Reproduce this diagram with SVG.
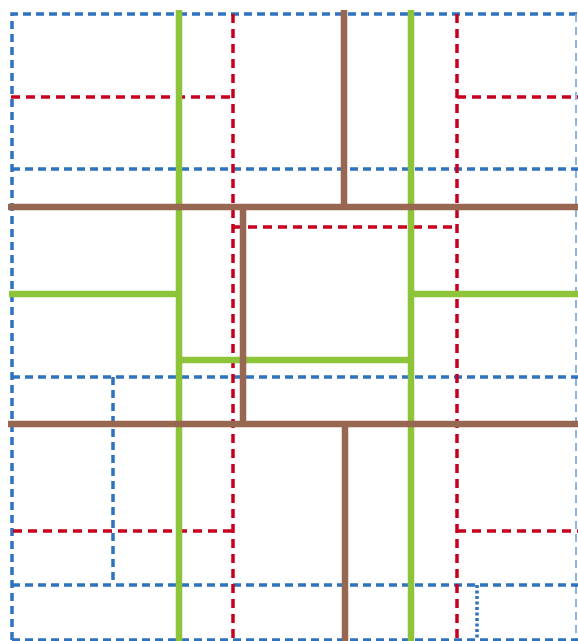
<svg xmlns="http://www.w3.org/2000/svg" width="578" height="641" viewBox="0 0 578 641">
<style>
.blue{fill:none;stroke:#2f72bd;stroke-width:3.5;stroke-dasharray:8 5}
.bluef{fill:none;stroke:#2f72bd;stroke-width:3.5;stroke-dasharray:3 2.5}
.red{fill:none;stroke:#c8001f;stroke-width:3.5;stroke-dasharray:9 6}
.green{fill:none;stroke:#8dc43a;stroke-width:6.5;stroke-linecap:butt}
.brown{fill:none;stroke:#976751;stroke-width:6.5;stroke-linecap:butt}
</style>
<rect width="578" height="641" fill="#ffffff"/>
<g id="blue-lines">
  <path class="blue" d="M12 640 V14 H578"/>
  <path d="M576 14 V640" fill="none" stroke="#8fb4df" stroke-width="2" stroke-dasharray="8 5"/>
  <path class="blue" d="M12 169 H578"/>
  <path class="blue" d="M12 377 H578"/>
  <path class="blue" d="M113 377 V585"/>
  <path class="blue" d="M12 585 H578"/>
  <path class="blue" d="M12 640 H578"/>
  <path class="bluef" d="M477 585 V640"/>
</g>
<g id="red-lines">
  <path class="red" d="M11 97 H233"/>
  <path class="red" d="M233 14 V641"/>
  <path class="red" d="M457 14 V641"/>
  <path class="red" d="M457 97 H578"/>
  <path class="red" d="M233 227 H457"/>
  <path class="red" d="M13 531 H233"/>
  <path class="red" d="M457 531 H578"/>
</g>
<g id="green-lines">
  <path class="green" d="M179 10 V641"/>
  <path class="green" d="M411 10 V641"/>
  <path class="green" d="M9 294 H179"/>
  <path class="green" d="M411 294 H578"/>
  <path class="green" d="M179 360 H411"/>
</g>
<g id="brown-lines">
  <path class="brown" d="M8 207 H578" stroke-linecap="round"/>
  <path class="brown" d="M344 10 V207"/>
  <path class="brown" d="M243 207 V424"/>
  <path class="brown" d="M8 424 H578" stroke-linecap="round"/>
  <path class="brown" d="M345 424 V641"/>
</g>
</svg>
